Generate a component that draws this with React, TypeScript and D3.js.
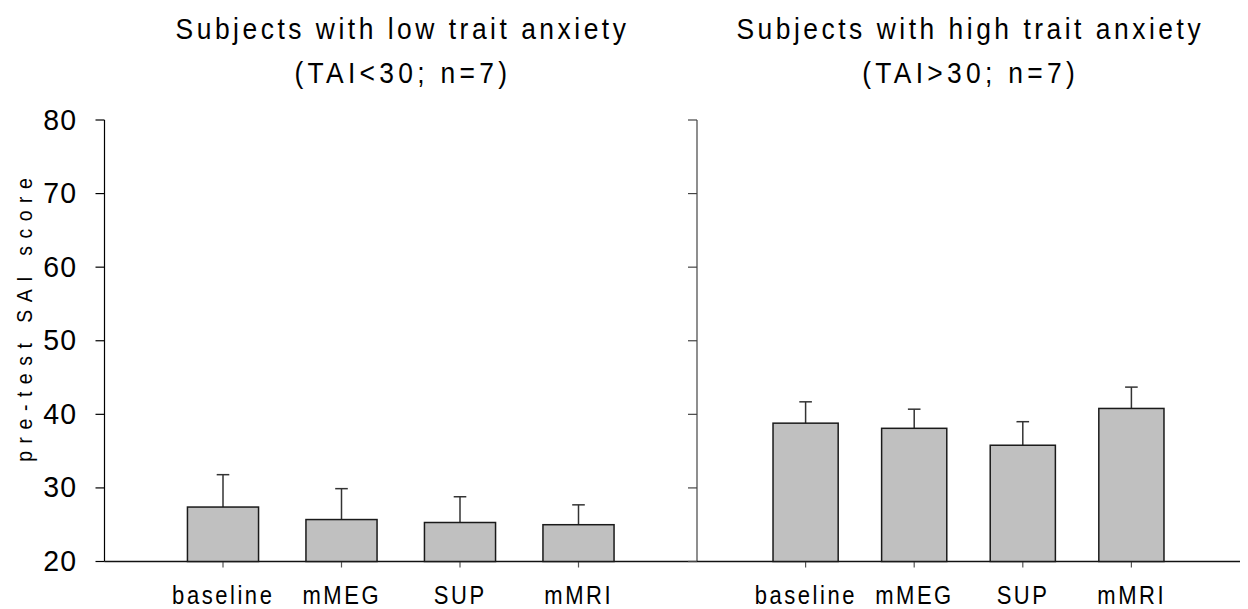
import React from 'react';
import * as d3 from 'd3';

const categories = ['baseline', 'mMEG', 'SUP', 'mMRI'];
const lowMeans = [27.4, 25.7, 25.3, 25.0];
const lowErrors = [4.4, 4.2, 3.5, 2.7];
const highMeans = [38.8, 38.1, 35.8, 40.8];
const highErrors = [2.9, 2.6, 3.2, 2.9];
const yTicks = [20, 30, 40, 50, 60, 70, 80];
const lowTitle = ['Subjects with low trait anxiety', '(TAI<30; n=7)'];
const highTitle = ['Subjects with high trait anxiety', '(TAI>30; n=7)'];
const yLabel = 'pre-test SAI score';

const W = 1248;
const H = 609;
const FONT = "'Liberation Sans', Arial, Helvetica, sans-serif";
const SX = 0.88;

const y = d3.scaleLinear().domain([20, 80]).range([561.5, 120]);

type STextProps = {
  x: number;
  y: number;
  size: number;
  spacing: number;
  rotate?: number;
  children: string;
};

// Condensed, letter-spaced text (the reference uses a narrow, spaced sans)
function SText({ x, y: ty, size, spacing, rotate = 0, children }: STextProps) {
  return (
    <text
      transform={`translate(${x},${ty}) rotate(${rotate}) scale(${SX},1)`}
      textAnchor="middle"
      fontSize={size}
      letterSpacing={spacing}
      dx={spacing / 2}
      fontFamily={FONT}
      fill="#000"
    >
      {children}
    </text>
  );
}

type PanelProps = {
  x0: number;
  x1: number;
  means: number[];
  errors: number[];
  title: string[];
  showLabels: boolean;
  axisColor: string;
  axisX: number;
};

function Panel({ x0, x1, means, errors, title, showLabels, axisColor, axisX }: PanelProps) {
  const x = d3.scalePoint<string>().domain(categories).range([x0, x1]).padding(1);
  const step = x.step();
  const bw = step * 0.6;
  const cx = (x0 + x1) / 2;
  const capHalf = 6.3;
  return (
    <g>
      <SText x={cx} y={38.5} size={30} spacing={4.0}>{title[0]}</SText>
      <SText x={cx} y={82.7} size={30} spacing={4.9}>{title[1]}</SText>
      {/* y axis */}
      <line x1={axisX} x2={axisX} y1={y(80)} y2={y(20)} stroke={axisColor} strokeWidth={1.2} />
      {yTicks.map((t) => (
        <line key={t} x1={axisX - 9} x2={axisX} y1={y(t)} y2={y(t)} stroke={axisColor} strokeWidth={1.2} />
      ))}
      {showLabels &&
        yTicks.map((t) => (
          <text
            key={'l' + t}
            transform={`translate(76,${y(t) + 9.5}) scale(0.95,1)`}
            textAnchor="end"
            fontSize={30}
            letterSpacing={1}
            dx={1}
            fontFamily={FONT}
            fill="#000"
          >
            {t}
          </text>
        ))}
      {/* x axis */}
      <line x1={x0} x2={x1} y1={y(20)} y2={y(20)} stroke="#111" strokeWidth={1.4} />
      {categories.map((c) => (
        <line key={'t' + c} x1={x(c)!} x2={x(c)!} y1={y(20)} y2={y(20) + 6} stroke="#555" strokeWidth={1.2} />
      ))}
      {/* error bars */}
      {categories.map((c, i) => (
        <g key={'e' + c}>
          <line x1={x(c)!} x2={x(c)!} y1={y(means[i])} y2={y(means[i] + errors[i])} stroke="#333" strokeWidth={1.5} />
          <line
            x1={x(c)! - capHalf}
            x2={x(c)! + capHalf}
            y1={y(means[i] + errors[i])}
            y2={y(means[i] + errors[i])}
            stroke="#333"
            strokeWidth={1.5}
          />
        </g>
      ))}
      {/* bars */}
      {categories.map((c, i) => (
        <rect
          key={'b' + c}
          x={x(c)! - bw / 2}
          y={y(means[i])}
          width={bw}
          height={y(20) - y(means[i])}
          fill="#c0c0c0"
          stroke="#1a1a1a"
          strokeWidth={1.5}
        />
      ))}
      {/* x labels */}
      {categories.map((c) => (
        <SText key={'x' + c} x={x(c)! - 1} y={603.5} size={25} spacing={2.9}>{c}</SText>
      ))}
    </g>
  );
}

export default function App() {
  return (
    <svg
      width={W}
      height={H}
      viewBox={`0 0 ${W} ${H}`}
      style={{ position: 'absolute', left: 0, top: 0, display: 'block', background: '#fff' }}
    >
      <rect x={0} y={0} width={W} height={H} fill="#fff" />
      <Panel x0={104.5} x1={697} means={lowMeans} errors={lowErrors} title={lowTitle} showLabels={true} axisColor="#000" axisX={104.5} />
      <Panel x0={697} x1={1240} means={highMeans} errors={highErrors} title={highTitle} showLabels={false} axisColor="#444" axisX={697} />
      <SText x={31.5} y={320} size={22} spacing={8.6} rotate={-90}>{yLabel}</SText>
    </svg>
  );
}
